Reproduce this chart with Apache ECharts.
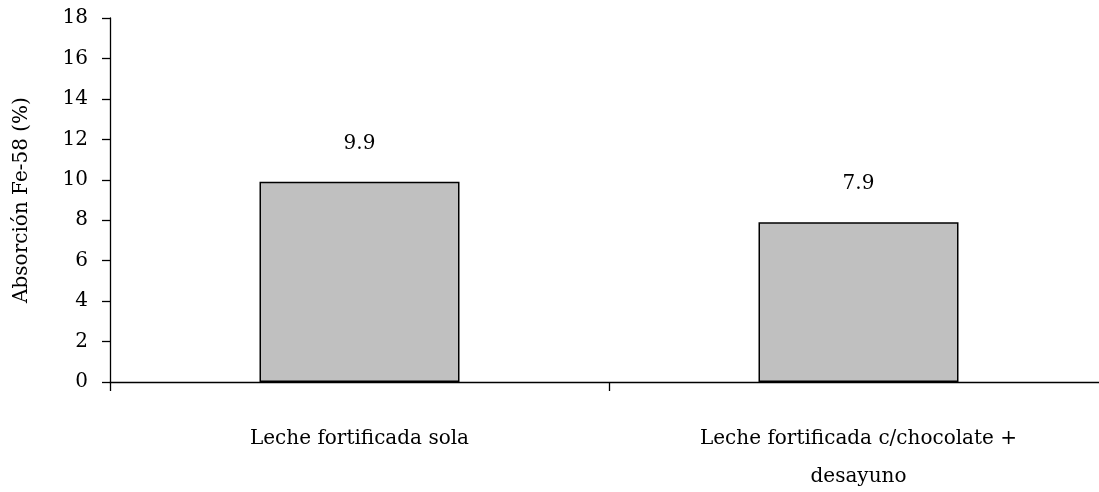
<!DOCTYPE html>
<html>
<head>
<meta charset="utf-8">
<script src="https://cdn.jsdelivr.net/npm/echarts@6/dist/echarts.min.js"></script>
<style>
  html, body { margin: 0; padding: 0; background: #fff; }
  #chart { width: 1099px; height: 492px; }
</style>
</head>
<body>
<div id="chart"></div>
<script>
// Fe-58 absorption by treatment
const categories = ['Leche fortificada sola', 'Leche fortificada c/chocolate +\ndesayuno'];
const absorption = [9.9, 7.9];
const yTicks = { min: 0, max: 18, interval: 2 };
const yTitle = 'Absorción Fe-58 (%)';

const FONT = '"DejaVu Serif", serif';

const chart = echarts.init(document.getElementById('chart'), null, { renderer: 'canvas' });
chart.setOption({
  animation: false,
  backgroundColor: '#ffffff',
  textStyle: { fontFamily: FONT, color: '#000' },
  grid: { left: 110, top: 18, bottom: 110, width: 998, containLabel: false, outerBoundsMode: 'none' },
  xAxis: {
    type: 'category',
    data: categories,
    boundaryGap: true,
    axisLine: { lineStyle: { color: '#000', width: 1.3 } },
    axisTick: { show: true, inside: false, length: 9, lineStyle: { color: '#000', width: 1.3 } },
    axisLabel: { margin: 38, fontFamily: FONT, fontSize: 20, color: '#000', lineHeight: 38, interval: 0 }
  },
  yAxis: {
    type: 'value',
    min: yTicks.min,
    max: yTicks.max,
    interval: yTicks.interval,
    name: yTitle,
    nameLocation: 'middle',
    nameGap: 78,
    nameTextStyle: { fontFamily: FONT, fontSize: 20, color: '#000' },
    splitLine: { show: false },
    axisLine: { show: true, lineStyle: { color: '#000', width: 1.3 } },
    axisTick: { show: true, inside: false, length: 8, lineStyle: { color: '#000', width: 1.3 } },
    axisLabel: { margin: 22, fontFamily: FONT, fontSize: 20, color: '#000' }
  },
  series: [{
    type: 'bar',
    data: absorption,
    barWidth: 200,
    itemStyle: { color: '#c0c0c0', borderColor: '#000', borderWidth: 1.5 },
    label: {
      show: true,
      position: 'top',
      distance: 28,
      fontFamily: FONT,
      fontSize: 20,
      color: '#000',
      formatter: p => p.value.toFixed(1)
    }
  }]
});
</script>
</body>
</html>
